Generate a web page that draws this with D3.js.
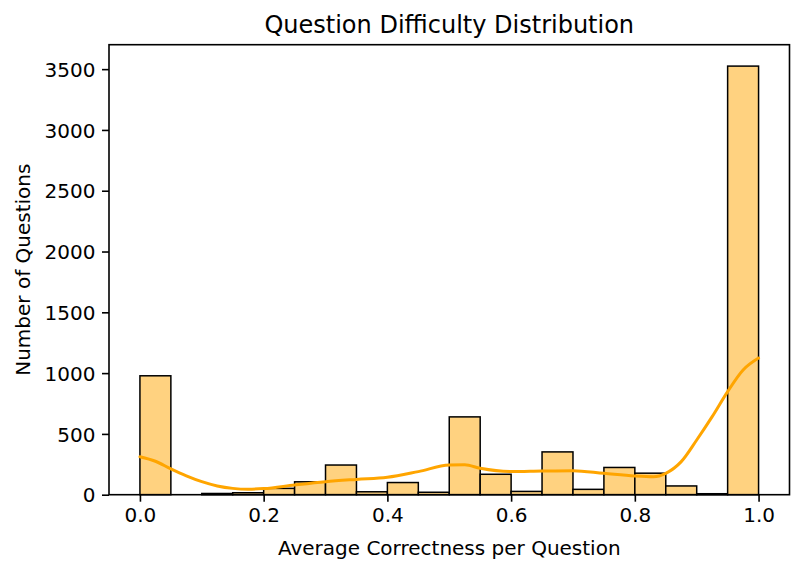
<!DOCTYPE html>
<html>
<head>
<meta charset="utf-8">
<script src="https://cdn.jsdelivr.net/npm/d3@7/dist/d3.min.js"></script>
<style>
html,body{margin:0;padding:0;background:#fff;}
svg{display:block;font-family:"DejaVu Sans",sans-serif;}
</style>
</head>
<body>
<svg id="chart" width="803" height="573"></svg>
<script>
// Histogram bins (left edges) and counts
const binEdges = [0,0.05,0.1,0.15,0.2,0.25,0.3,0.35,0.4,0.45,0.5,0.55,0.6,0.65,0.7,0.75,0.8,0.85,0.9,0.95,1.0];
const counts = [978,0,10,16,52,106,244,24,100,20,640,168,27,352,44,224,177,72,8,3525];
// KDE curve points (x, count scale)
const kdeX = [0,0.025,0.05,0.075,0.1,0.125,0.15,0.175,0.2,0.25,0.3,0.35,0.4,0.45,0.5,0.525,0.55,0.6,0.65,0.7,0.75,0.8,0.83,0.85,0.875,0.9,0.925,0.95,0.975,1.0];
const kdeY = [312,275,212,155,107,72,52,45,50,80,107,126,143,190,244,246,217,190,195,198,176,154,148,176,272,450,642,848,1026,1124];
const xTicks = [0,0.2,0.4,0.6,0.8,1.0];
const yTicks = [0,500,1000,1500,2000,2500,3000,3500];

const svg = d3.select("#chart");
const m = {left:109, right:789.5, top:44.7, bottom:494.7};
const x = d3.scaleLinear().domain([-0.05,1.05]).range([m.left,m.right]);
const y = d3.scaleLinear().domain([0,3701]).range([m.bottom,m.top]);
const FS = 20;

const bins = counts.map((c,i)=>({x0:binEdges[i],x1:binEdges[i+1],c}));
svg.append("g").selectAll("rect").data(bins).enter().append("rect")
  .attr("x",d=>x(d.x0)).attr("width",d=>x(d.x1)-x(d.x0))
  .attr("y",d=>y(d.c)).attr("height",d=>y(0)-y(d.c))
  .attr("fill","#ffd280").attr("stroke","#000").attr("stroke-width",1.5);

const line = d3.line().x(d=>x(d[0])).y(d=>y(d[1])).curve(d3.curveMonotoneX);
svg.append("path").datum(kdeX.map((v,i)=>[v,kdeY[i]]))
  .attr("d",line).attr("fill","none").attr("stroke","#ffa500").attr("stroke-width",3)
  .attr("stroke-linecap","round");

// spines
svg.append("rect").attr("x",m.left).attr("y",m.top).attr("width",m.right-m.left).attr("height",m.bottom-m.top)
  .attr("fill","none").attr("stroke","#000").attr("stroke-width",1.6);

const xAxis = svg.append("g").attr("transform",`translate(0,${m.bottom})`)
  .call(d3.axisBottom(x).tickValues(xTicks).tickFormat(d3.format(".1f")).tickSize(7).tickPadding(6.5));
const yAxis = svg.append("g").attr("transform",`translate(${m.left},0)`)
  .call(d3.axisLeft(y).tickValues(yTicks).tickFormat(d=>String(d)).tickSize(7).tickPadding(6.5));
[xAxis,yAxis].forEach(a=>{
  a.select(".domain").remove();
  a.selectAll("line").attr("stroke","#000").attr("stroke-width",1.6);
  a.selectAll("text").attr("font-family","DejaVu Sans").attr("font-size",FS).attr("fill","#000");
});
yAxis.selectAll("text").attr("dy","0.36em");

svg.append("text").attr("x",(m.left+m.right)/2).attr("y",33).attr("text-anchor","middle")
  .attr("font-size",24).attr("fill","#000").text("Question Difficulty Distribution");
svg.append("text").attr("x",(m.left+m.right)/2).attr("y",555).attr("text-anchor","middle")
  .attr("font-size",FS).attr("fill","#000").text("Average Correctness per Question");
svg.append("text").attr("transform",`translate(30,${(m.top+m.bottom)/2}) rotate(-90)`).attr("text-anchor","middle")
  .attr("font-size",FS).attr("fill","#000").text("Number of Questions");
</script>
</body>
</html>
